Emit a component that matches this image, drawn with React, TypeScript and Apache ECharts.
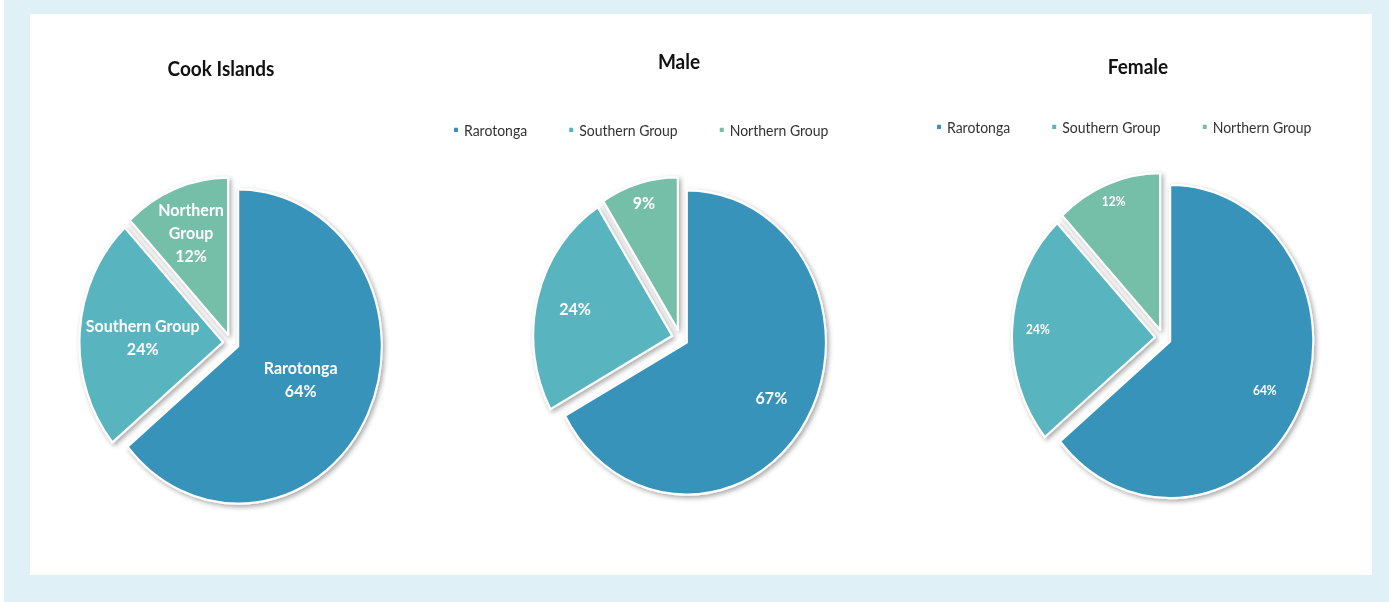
import React, { useEffect, useRef } from "react";
import * as echarts from "echarts";

// ---- data ----
const categories = ["Rarotonga", "Southern Group", "Northern Group"];
const cookValues = [64, 24, 12];
const maleValues = [67, 24, 9];
const femaleValues = [64, 24, 12];
const chartTitles = ["Cook Islands", "Male", "Female"];
const cookLabelNames = ["Rarotonga", "Southern Group", "Northern\nGroup"];

// ---- styles / layout ----
const COLORS = ["#3793bb", "#58b5bf", "#75bea8"];
const FONT = "Lato, 'Open Sans', 'Noto Sans', sans-serif";
const W = 1389;
const H = 550; // drawing height before the vertical stretch
const SY = 602 / H; // the reference picture is stretched vertically

function makePie(
  values: number[],
  center: [number, number],
  radius: number,
  fractions: number[],
  formatter: (p: any) => string,
  fontSize: number,
  lineHeight: number
) {
  const total = values.reduce((a, b) => a + b, 0);
  const mids: number[] = [];
  let acc = 0;
  values.forEach((v) => {
    mids.push(((acc + v / 2) / total) * 2 * Math.PI);
    acc += v;
  });
  const itemStyle = {
    borderColor: "#ffffff",
    borderWidth: 2,
    shadowBlur: 5,
    shadowColor: "rgba(0,0,0,0.35)",
    shadowOffsetX: 2,
    shadowOffsetY: 2,
  };
  return {
    type: "pie",
    center,
    radius,
    startAngle: 90,
    clockwise: true,
    selectedMode: "multiple",
    selectedOffset: 8,
    avoidLabelOverlap: false,
    data: values.map((v, i) => ({
      name: categories[i],
      value: v,
      selected: true,
      itemStyle: { color: COLORS[i] },
    })),
    itemStyle,
    select: { itemStyle },
    emphasis: { disabled: true },
    label: {
      show: true,
      position: "inside",
      color: "#ffffff",
      fontWeight: "bold",
      fontFamily: FONT,
      fontSize,
      lineHeight,
      align: "center",
      formatter,
    },
    labelLine: { show: false },
    labelLayout: (p: any) => {
      const i = p.dataIndex;
      const t = mids[i];
      const k = (fractions[i] - 0.5) * radius;
      return { dx: Math.sin(t) * k, dy: -Math.cos(t) * k };
    },
  };
}

export default function App() {
  const ref = useRef<HTMLDivElement>(null);
  useEffect(() => {
    if (!ref.current) return;
    const chart = echarts.init(ref.current, undefined, { renderer: "svg" });
    const pct = (p: any) => `${Math.round(p.percent)}%`;
    const legendCommon = {
      orient: "horizontal",
      icon: "rect",
      itemWidth: 6,
      itemHeight: 6,
      itemGap: 40,
      padding: 0,
      selectedMode: false,
      data: categories,
      textStyle: { fontFamily: FONT, fontSize: 14, color: "#333333" },
    };
    const titleCommon = {
      textAlign: "center",
      padding: 0,
      textStyle: { fontFamily: FONT, fontSize: 19, fontWeight: "bold", color: "#111111" },
    };
    chart.setOption({
      animation: false,
      color: COLORS,
      graphic: [
        { type: "rect", z: -10, shape: { x: 4, y: 0, width: W - 4, height: H }, style: { fill: "#dff1f6" }, silent: true },
        { type: "rect", z: -9, shape: { x: 30, y: 14 / SY, width: 1342, height: 561 / SY }, style: { fill: "#ffffff" }, silent: true },
      ],
      title: [
        { ...titleCommon, text: chartTitles[0], left: 221, top: 68 / SY - 9.5 },
        { ...titleCommon, text: chartTitles[1], left: 679, top: 61 / SY - 9.5 },
        { ...titleCommon, text: chartTitles[2], left: 1138, top: 66 / SY - 9.5 },
      ],
      legend: [
        { ...legendCommon, left: 452, top: 131 / SY - 8 },
        { ...legendCommon, left: 935, top: 128 / SY - 8 },
      ],
      series: [
        makePie(
          cookValues,
          [231, 342.8 / SY],
          143.5,
          [0.46, 0.54, 0.68],
          (p: any) => `${cookLabelNames[p.dataIndex]}\n${Math.round(p.percent)}%`,
          16,
          21
        ),
        makePie(maleValues, [680, 338 / SY], 139, [0.685, 0.7, 0.85], pct, 16, 20),
        makePie(femaleValues, [1163, 337.8 / SY], 143, [0.71, 0.8, 0.86], pct, 12, 16),
      ],
    });
    return () => chart.dispose();
  }, []);
  return (
    <div
      ref={ref}
      style={{
        position: "fixed",
        left: 0,
        top: 0,
        width: W,
        height: H,
        background: "#ffffff",
        transform: `scaleY(${SY})`,
        transformOrigin: "0 0",
      }}
    />
  );
}
